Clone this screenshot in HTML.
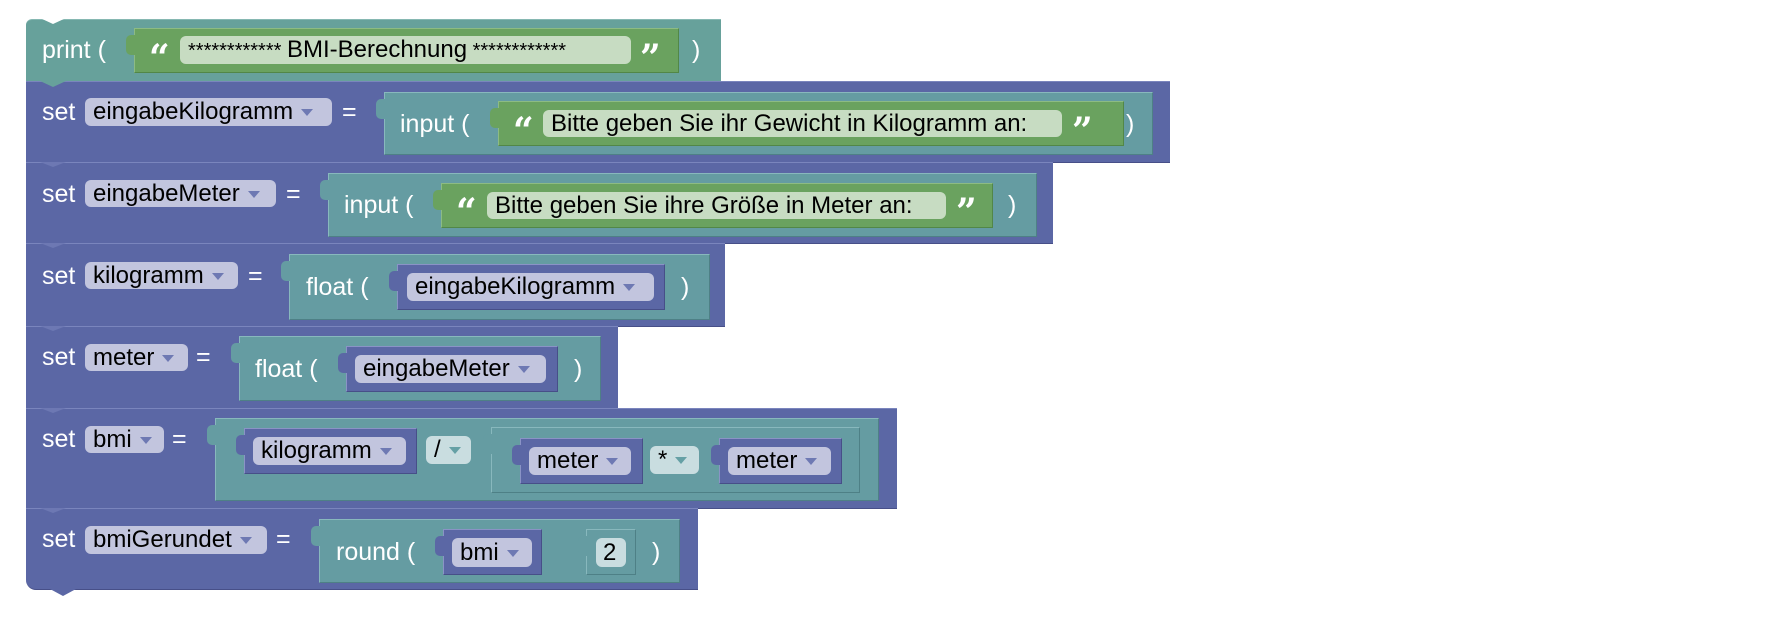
<!DOCTYPE html>
<html><head><meta charset="utf-8"><style>
body{margin:0;width:1790px;height:632px;background:#fff;position:relative;overflow:hidden;font-family:"Liberation Sans",Arial,sans-serif}
.b{position:absolute;box-sizing:border-box}
.p{background:#5b67a5;border-top:1px solid #7a85bd;border-bottom:1px solid #474f88}
.pr{background:#67a19b;border-top:1px solid #86b8b2;border-bottom:1px solid #4f8580}
.t{background:#659ca2;border:1px solid #4e8086;border-top-color:#88b8bd;border-left-color:#88b8bd}
.g{background:#6aa25f;border:1px solid #528747;border-top-color:#8dbb83;border-left-color:#8dbb83}
.v{background:#5b67a5;border:1px solid #474f88;border-top-color:#8a93c6;border-left-color:#8a93c6}
.f{position:absolute;box-sizing:border-box;border-radius:6px;color:#000;font-size:24px;white-space:nowrap;padding-left:8px}
.fv{background:#c2c5de}
.fs{background:#c7dcc2}
.fo{background:#c9dde0}
.l{position:absolute;color:#fff;font-size:25px;white-space:nowrap;line-height:28px}
.q{position:absolute;color:#fff;font-size:36px;font-weight:bold;line-height:36px;font-family:"DejaVu Serif",serif}
.tab{position:absolute;left:-9px;top:6px;width:10px;height:20px;border-radius:5px 0 0 5px}
.arr{display:inline-block;width:0;height:0;border-left:6px solid transparent;border-right:6px solid transparent;border-top:7px solid #6e79b3;margin-left:8px;vertical-align:middle}
.arr.o{border-top-color:#65a0a5}
.notch{position:absolute;width:0;height:0;border-left:13px solid transparent;border-right:13px solid transparent}
</style></head><body>

<div class="b pr" style="left:26px;top:19px;width:695px;height:63px;border-radius:6px 0 0 0"></div>
<div class="b p" style="left:26px;top:81px;width:1144px;height:82px"></div>
<div class="b p" style="left:26px;top:162px;width:1027px;height:82px"></div>
<div class="b p" style="left:26px;top:243px;width:699px;height:84px"></div>
<div class="b p" style="left:26px;top:326px;width:592px;height:83px"></div>
<div class="b p" style="left:26px;top:408px;width:871px;height:101px"></div>
<div class="b p" style="left:26px;top:508px;width:672px;height:82px;border-radius:0 0 0 10px"></div>
<div class="notch" style="left:40px;top:18px;border-top:6px solid #fff"></div>
<div class="notch" style="left:40px;top:81px;border-top:6px solid #67a19b"></div>
<div class="notch" style="left:40px;top:162px;border-top:5px solid #6d78b3"></div>
<div class="notch" style="left:40px;top:243px;border-top:5px solid #6d78b3"></div>
<div class="notch" style="left:40px;top:326px;border-top:5px solid #6d78b3"></div>
<div class="notch" style="left:40px;top:408px;border-top:5px solid #6d78b3"></div>
<div class="notch" style="left:40px;top:508px;border-top:5px solid #6d78b3"></div>
<div class="notch" style="left:50px;top:589px;border-top:7px solid #5b67a5"></div>

<div class="l" style="left:42px;top:36px">print (</div>
<div class="b g" style="left:134px;top:28px;width:545px;height:45px"><div class="tab" style="background:#6aa25f"></div></div>
<div class="q" style="left:149px;top:40px">“</div>
<div class="f fs" style="left:180px;top:36px;width:451px;height:28px;line-height:28px;font-size:20px">************ <span style="font-size:24px">BMI-Berechnung</span> ************</div>
<div class="q" style="left:640px;top:40px">”</div>
<div class="l" style="left:692px;top:36px">)</div>

<div class="l" style="left:42px;top:98px">set</div>
<div class="f fv" style="left:85px;top:98px;width:247px;height:28px;line-height:28px">eingabeKilogramm<span class="arr"></span></div>
<div class="l" style="left:342px;top:98px">=</div>
<div class="b t" style="left:384px;top:92px;width:769px;height:63px"><div class="tab" style="background:#659ca2"></div></div>
<div class="l" style="left:400px;top:110px">input (</div>
<div class="b g" style="left:498px;top:101px;width:626px;height:45px"><div class="tab" style="background:#6aa25f"></div></div>
<div class="q" style="left:513px;top:113px">“</div>
<div class="f fs" style="left:543px;top:110px;width:519px;height:27px;line-height:27px">Bitte geben Sie ihr Gewicht in Kilogramm an:</div>
<div class="q" style="left:1072px;top:113px">”</div>
<div class="l" style="left:1126px;top:110px">)</div>

<div class="l" style="left:42px;top:180px">set</div>
<div class="f fv" style="left:85px;top:180px;width:191px;height:27px;line-height:27px">eingabeMeter<span class="arr"></span></div>
<div class="l" style="left:286px;top:180px">=</div>
<div class="b t" style="left:328px;top:173px;width:709px;height:64px"><div class="tab" style="background:#659ca2"></div></div>
<div class="l" style="left:344px;top:191px">input (</div>
<div class="b g" style="left:441px;top:183px;width:552px;height:45px"><div class="tab" style="background:#6aa25f"></div></div>
<div class="q" style="left:456px;top:194px">“</div>
<div class="f fs" style="left:487px;top:192px;width:459px;height:27px;line-height:27px">Bitte geben Sie ihre Größe in Meter an:</div>
<div class="q" style="left:956px;top:194px">”</div>
<div class="l" style="left:1008px;top:191px">)</div>

<div class="l" style="left:42px;top:262px">set</div>
<div class="f fv" style="left:85px;top:262px;width:153px;height:27px;line-height:27px">kilogramm<span class="arr"></span></div>
<div class="l" style="left:248px;top:262px">=</div>
<div class="b t" style="left:289px;top:254px;width:421px;height:66px"><div class="tab" style="background:#659ca2"></div></div>
<div class="l" style="left:306px;top:273px">float (</div>
<div class="b v" style="left:397px;top:264px;width:268px;height:46px"><div class="tab" style="background:#5b67a5"></div></div>
<div class="f fv" style="left:407px;top:273px;width:247px;height:28px;line-height:28px">eingabeKilogramm<span class="arr"></span></div>
<div class="l" style="left:681px;top:273px">)</div>

<div class="l" style="left:42px;top:343px">set</div>
<div class="f fv" style="left:85px;top:344px;width:103px;height:27px;line-height:27px">meter<span class="arr"></span></div>
<div class="l" style="left:196px;top:343px">=</div>
<div class="b t" style="left:239px;top:336px;width:362px;height:65px"><div class="tab" style="background:#659ca2"></div></div>
<div class="l" style="left:255px;top:355px">float (</div>
<div class="b v" style="left:346px;top:346px;width:212px;height:46px"><div class="tab" style="background:#5b67a5"></div></div>
<div class="f fv" style="left:355px;top:355px;width:191px;height:28px;line-height:28px">eingabeMeter<span class="arr"></span></div>
<div class="l" style="left:574px;top:355px">)</div>

<div class="l" style="left:42px;top:425px">set</div>
<div class="f fv" style="left:85px;top:426px;width:79px;height:27px;line-height:27px">bmi<span class="arr"></span></div>
<div class="l" style="left:172px;top:425px">=</div>
<div class="b t" style="left:215px;top:418px;width:664px;height:83px"><div class="tab" style="background:#659ca2"></div></div>
<div class="b v" style="left:244px;top:428px;width:173px;height:46px"><div class="tab" style="background:#5b67a5"></div></div>
<div class="f fv" style="left:253px;top:437px;width:153px;height:28px;line-height:28px">kilogramm<span class="arr"></span></div>
<div class="f fo" style="left:426px;top:436px;width:45px;height:28px;line-height:28px">/<span class="arr o"></span></div>
<div class="b t" style="left:491px;top:427px;width:369px;height:66px"><div class="tab" style="background:#659ca2"></div></div>
<div class="b v" style="left:520px;top:438px;width:123px;height:46px"><div class="tab" style="background:#5b67a5"></div></div>
<div class="f fv" style="left:529px;top:447px;width:102px;height:28px;line-height:28px">meter<span class="arr"></span></div>
<div class="f fo" style="left:650px;top:446px;width:49px;height:28px;line-height:28px">*<span class="arr o"></span></div>
<div class="b v" style="left:719px;top:438px;width:123px;height:46px"><div class="tab" style="background:#5b67a5"></div></div>
<div class="f fv" style="left:728px;top:447px;width:103px;height:28px;line-height:28px">meter<span class="arr"></span></div>

<div class="l" style="left:42px;top:525px">set</div>
<div class="f fv" style="left:85px;top:526px;width:182px;height:28px;line-height:28px">bmiGerundet<span class="arr"></span></div>
<div class="l" style="left:276px;top:525px">=</div>
<div class="b t" style="left:319px;top:519px;width:361px;height:64px"><div class="tab" style="background:#659ca2"></div></div>
<div class="l" style="left:336px;top:538px">round (</div>
<div class="b v" style="left:443px;top:529px;width:99px;height:46px"><div class="tab" style="background:#5b67a5"></div></div>
<div class="f fv" style="left:452px;top:538px;width:80px;height:29px;line-height:29px">bmi<span class="arr"></span></div>
<div class="b t" style="left:586px;top:529px;width:50px;height:46px"><div class="tab" style="background:#659ca2"></div></div>
<div class="f fo" style="left:596px;top:538px;width:30px;height:29px;line-height:29px;padding-left:7px">2</div>
<div class="l" style="left:652px;top:538px">)</div>
</body></html>
